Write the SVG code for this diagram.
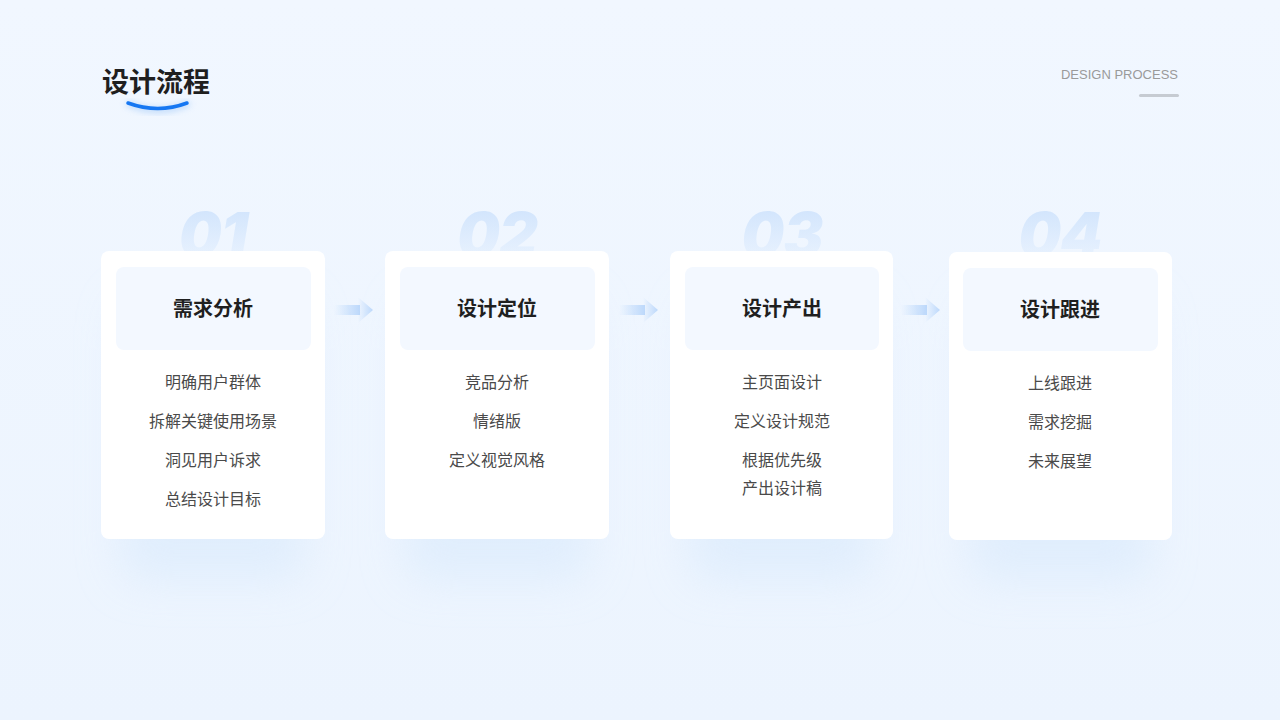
<svg xmlns="http://www.w3.org/2000/svg" width="1280" height="720" viewBox="0 0 1280 720">
<defs>
<linearGradient id="bg" x1="0" y1="0" x2="0" y2="1">
<stop offset="0" stop-color="#f1f7ff"/>
<stop offset="1" stop-color="#ecf4fe"/>
</linearGradient>
<linearGradient id="num" x1="0" y1="0" x2="0" y2="1">
<stop offset="0" stop-color="#cde2fc"/>
<stop offset="1" stop-color="#cde2fc" stop-opacity="0.05"/>
</linearGradient>
<linearGradient id="arr" x1="0" y1="0" x2="1" y2="0">
<stop offset="0" stop-color="#bcd8fb" stop-opacity="0"/>
<stop offset="1" stop-color="#bcd8fb"/>
</linearGradient>
<filter id="sh" x="-30%" y="-30%" width="160%" height="170%">
<feGaussianBlur stdDeviation="22"/>
</filter>
<filter id="gl" x="-30%" y="-100%" width="160%" height="300%">
<feGaussianBlur stdDeviation="3"/>
</filter>
</defs>
<style>
.card{fill:#ffffff;}
.head{fill:#f3f8ff;}
.shadow{fill:#d6e8fc;opacity:0.55;}
.ttl{font-family:"Noto Sans CJK SC","Noto Sans",sans-serif;font-size:20px;font-weight:700;fill:#1f1f1f;text-anchor:middle;}
.item{font-family:"Noto Sans CJK SC","Noto Sans",sans-serif;font-size:16px;fill:#4a4a4a;text-anchor:middle;}
.num{font-family:"Inter","Liberation Sans",sans-serif;font-size:60px;font-weight:900;font-style:italic;letter-spacing:-1px;fill:url(#num);text-anchor:middle;}
.arrow{fill:url(#arr);}
</style>
<rect width="1280" height="720" fill="url(#bg)"/>

<g id="title">
<text x="102" y="92" font-family="Noto Sans CJK SC, sans-serif" font-size="27" font-weight="700" fill="#1f1f1f">设计流程</text>
<path d="M129 104 Q158 116 187 104" fill="none" stroke="#9cc6f8" stroke-width="6" stroke-linecap="round" filter="url(#gl)" opacity="0.6"/>
<path d="M128 103 Q158 114 187 103" fill="none" stroke="#1677f2" stroke-width="3.5" stroke-linecap="round"/>
</g>
<g id="subtitle">
<text x="1178" y="79" text-anchor="end" font-family="Liberation Sans, Arial, sans-serif" font-size="13" fill="#9a9a9a">DESIGN PROCESS</text>
<rect x="1139" y="94" width="40" height="3" rx="1.5" fill="#c6cbd2"/>
</g>

<g id="numbers">
<text class="num" x="213" y="256">01</text>
<text class="num" x="497" y="256">02</text>
<text class="num" x="782" y="256">03</text>
<text class="num" x="1060" y="256">04</text>
</g>

<g id="connectors">
<g class="arrow">
<rect x="334" y="305" width="26" height="10"/>
<polygon points="358,297 373,310 358,323"/>
</g>
<g class="arrow">
<rect x="619" y="305" width="26" height="10"/>
<polygon points="643,297 658,310 643,323"/>
</g>
<g class="arrow">
<rect x="901" y="305" width="26" height="10"/>
<polygon points="925,297 940,310 925,323"/>
</g>
</g>

<g id="node1">
<rect class="shadow" x="121" y="300" width="184" height="280" rx="20" filter="url(#sh)"/>
<rect class="card" x="101" y="251" width="224" height="288" rx="8"/>
<rect class="head" x="116" y="267" width="195" height="83" rx="8"/>
<text class="ttl" x="213" y="316">需求分析</text>
<text class="item" x="213" y="388">明确用户群体</text>
<text class="item" x="213" y="427">拆解关键使用场景</text>
<text class="item" x="213" y="466">洞见用户诉求</text>
<text class="item" x="213" y="505">总结设计目标</text>
</g>

<g id="node2">
<rect class="shadow" x="405" y="300" width="184" height="280" rx="20" filter="url(#sh)"/>
<rect class="card" x="385" y="251" width="224" height="288" rx="8"/>
<rect class="head" x="400" y="267" width="195" height="83" rx="8"/>
<text class="ttl" x="497" y="316">设计定位</text>
<text class="item" x="497" y="388">竞品分析</text>
<text class="item" x="497" y="427">情绪版</text>
<text class="item" x="497" y="466">定义视觉风格</text>
</g>

<g id="node3">
<rect class="shadow" x="690" y="300" width="183" height="280" rx="20" filter="url(#sh)"/>
<rect class="card" x="670" y="251" width="223" height="288" rx="8"/>
<rect class="head" x="685" y="267" width="194" height="83" rx="8"/>
<text class="ttl" x="782" y="316">设计产出</text>
<text class="item" x="782" y="388">主页面设计</text>
<text class="item" x="782" y="427">定义设计规范</text>
<text class="item" x="782" y="466">根据优先级</text>
<text class="item" x="782" y="494">产出设计稿</text>
</g>

<g id="node4">
<rect class="shadow" x="969" y="301" width="183" height="280" rx="20" filter="url(#sh)"/>
<rect class="card" x="949" y="252" width="223" height="288" rx="8"/>
<rect class="head" x="963" y="268" width="195" height="83" rx="8"/>
<text class="ttl" x="1060" y="317">设计跟进</text>
<text class="item" x="1060" y="389">上线跟进</text>
<text class="item" x="1060" y="428">需求挖掘</text>
<text class="item" x="1060" y="467">未来展望</text>
</g>
</svg>
